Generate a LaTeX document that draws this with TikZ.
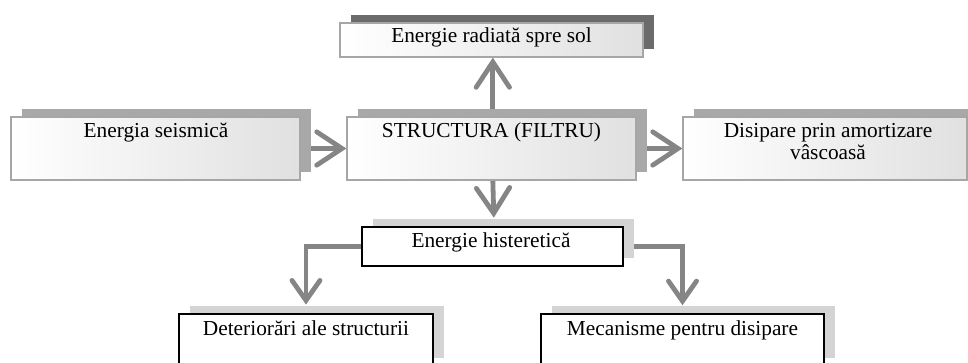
\documentclass[tikz,border=0pt]{standalone}
\usepackage{fontspec}
\setmainfont{Liberation Serif}
\usetikzlibrary{arrows.meta,shadows,backgrounds}
\definecolor{arrowgray}{HTML}{858585}
\definecolor{shadowdark}{HTML}{6B6B6B}
\definecolor{shadowmid}{HTML}{A8A8A8}
\definecolor{shadowlight}{HTML}{D4D4D4}
\definecolor{boxline}{HTML}{A6A6A6}
\tikzset{
  shadowed/.style={general shadow={shadow xshift=8.25pt, shadow yshift=6pt, fill=#1, draw=none}},
  gradbox/.style={draw=boxline, line width=0.9pt, left color=white, right color=black!12, inner sep=0pt},
  plainbox/.style={draw=black, line width=1.1pt, fill=white, inner sep=0pt},
  lbl/.style={inner sep=0pt, font=\fontsize{16}{16.5}\selectfont},
  bigarrow/.style={draw=arrowgray, line width=3.6pt, -{Straight Barb[length=19pt,width=25pt,line cap=round]}},
  smallarrow/.style={draw=arrowgray, line width=3.6pt, -{Straight Barb[length=15pt,width=21pt,line cap=round]}},
}
\begin{document}
\begin{tikzpicture}[x=0.75pt,y=-0.75pt]
\clip (0,0) rectangle (968,363);
% boxes
\node[gradbox, shadowed=shadowdark, minimum width=303*0.75pt, minimum height=34*0.75pt] (top) at (491.5,40) {};
\node[gradbox, shadowed=shadowmid, minimum width=289*0.75pt, minimum height=63*0.75pt] (seis) at (155.5,148.5) {};
\node[gradbox, shadowed=shadowmid, minimum width=289*0.75pt, minimum height=63*0.75pt] (main) at (491.5,148.5) {};
\node[gradbox, shadowed=shadowmid, minimum width=284*0.75pt, minimum height=63*0.75pt] (dis) at (825,148.5) {};
\node[plainbox, shadowed=shadowlight, minimum width=261*0.75pt, minimum height=39*0.75pt] (hist) at (492.5,246.5) {};
\node[plainbox, shadowed=shadowlight, minimum width=254*0.75pt, minimum height=52*0.75pt] (det) at (306,340) {};
\node[plainbox, shadowed=shadowlight, minimum width=283*0.75pt, minimum height=52*0.75pt] (mec) at (682.5,340) {};
% labels
\node[lbl, anchor=base] (topT) at (491.5,43) {Energie radiată spre sol};
\node[lbl, anchor=base] (seisT) at (156,138) {Energia seismică};
\node[lbl, anchor=base] (mainT) at (491.5,138) {STRUCTURA (FILTRU)};
\node[lbl, anchor=north, align=center] (disT) at (828,123.4) {Disipare prin amortizare\\vâscoasă};
\node[lbl, anchor=base] (histT) at (491,248) {Energie histeretică};
\node[lbl, anchor=base] (detT) at (306,336) {Deteriorări ale structurii};
\node[lbl, anchor=base] (mecT) at (682.5,336) {Mecanisme pentru disipare};
% connectors
\begin{scope}[on background layer]
\fill[white] (0,0) rectangle (968,363);
\draw[bigarrow] ([xshift=1pt]main.north) -- ([xshift=1pt]top.south);
\draw[bigarrow] (seis.east) -- (main.west);
\draw[bigarrow] (main.east) -- (dis.west);
\draw[bigarrow] ([xshift=1pt]main.south) -- ([xshift=1pt,yshift=6.5pt]hist.north);
\draw[smallarrow] (hist.west) -| ([yshift=6.5pt]det.north);
\draw[smallarrow] (hist.east) -| ([yshift=6pt]mec.north);
\end{scope}
\end{tikzpicture}
\end{document}
